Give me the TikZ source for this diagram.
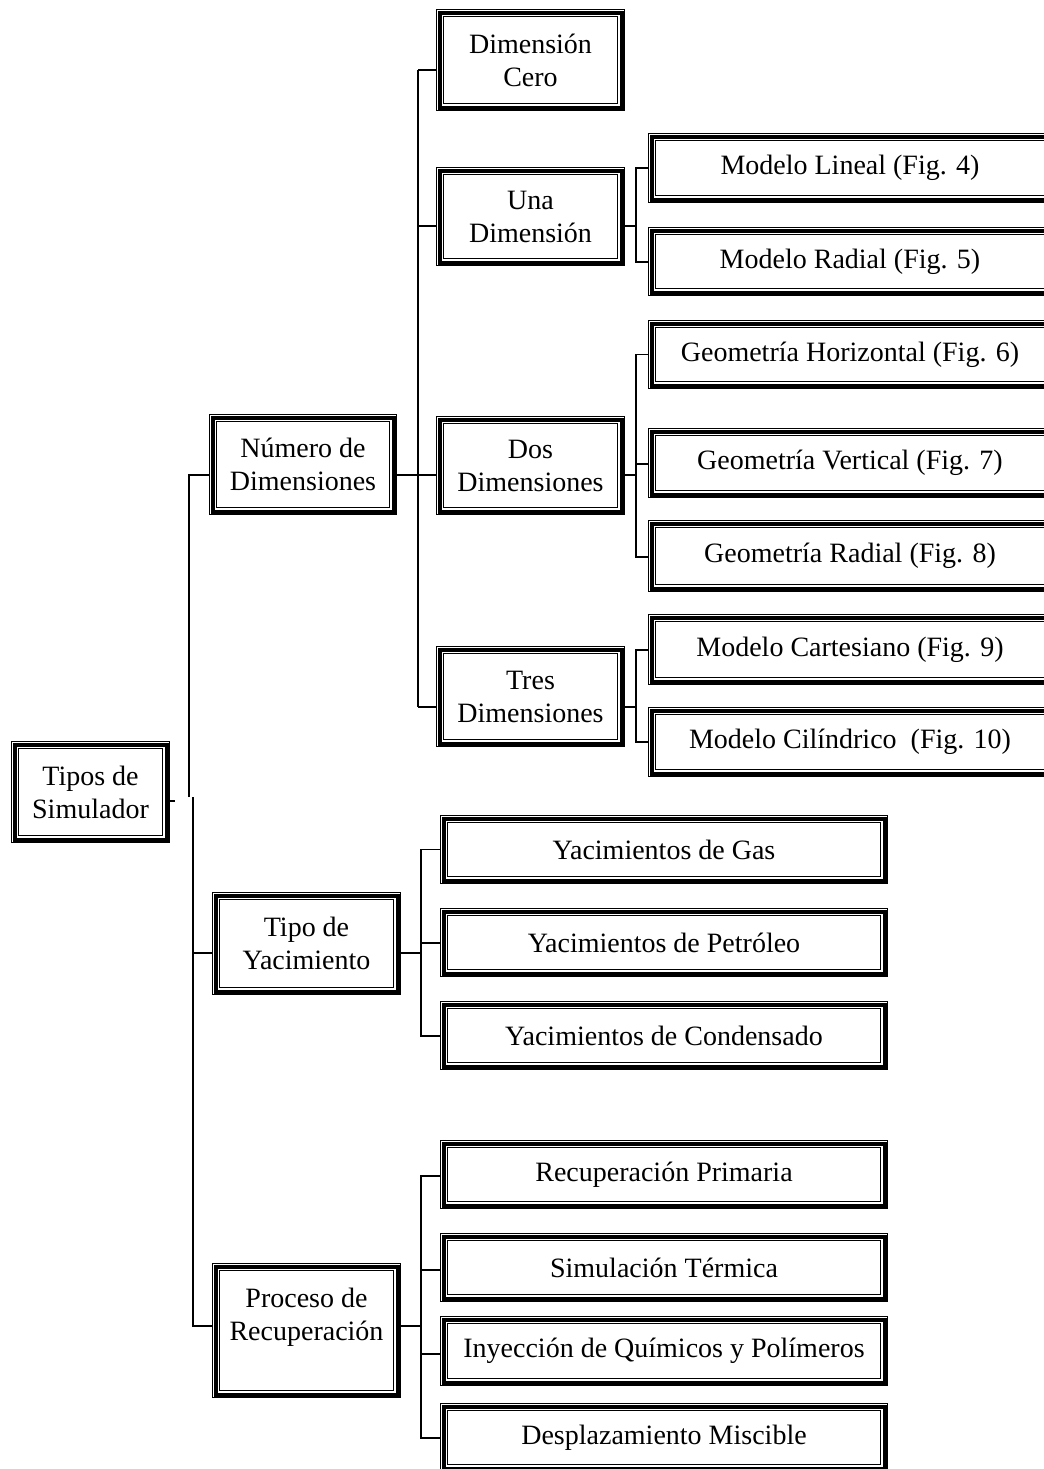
\documentclass[tikz,border=0pt]{standalone}
\usepackage{fontspec}
\setmainfont{Liberation Serif}
\begin{document}
\begin{tikzpicture}[x=0.5pt,y=-0.5pt,
  box/.style={draw=none, outer sep=0pt, inner sep=0pt, align=center,
    font=\fontsize{14pt}{16.5pt}\selectfont},
  sz/.style 2 args={minimum width=#1*0.5pt, minimum height=#2*0.5pt},
  conn/.style={line width=0.85pt, black}]
\fill[white] (0,0) rectangle (1044,1469);
\useasboundingbox (0,0) rectangle (1044,1469);

% root and first level
\node[box, sz={159}{102}] (tipos)   at (90.5,792)   {Tipos de\\Simulador};
\node[box, sz={188}{101}] (numero)  at (303,464.5)  {Número de\\Dimensiones};
\node[box, sz={189}{103}] (tipoyac) at (306.5,943.5) {Tipo de\\Yacimiento};
\node[box, sz={189}{135}] (proceso) at (306.5,1330.5) {Proceso de\\Recuperación\\\mbox{}};

% dimensions
\node[box, sz={189}{102}] (cero) at (530.5,60)    {Dimensión\\Cero};
\node[box, sz={189}{99}]  (una)  at (530.5,216.5) {Una\\Dimensión};
\node[box, sz={189}{99}]  (dos)  at (530.5,465.5) {Dos\\Dimensiones};
\node[box, sz={189}{101}] (tres) at (530.5,696.5) {Tres\\Dimensiones};

% geometric models
\node[box, sz={404}{70}] (lineal) at (850,168)   {Modelo Lineal (Fig. 4)};
\node[box, sz={404}{69}] (radial) at (850,261.5) {Modelo Radial (Fig. 5)};
\node[box, sz={404}{69}] (horiz)  at (850,354.5) {Geometría Horizontal (Fig. 6)};
\node[box, sz={404}{70}] (vert)   at (850,463)   {Geometría Vertical (Fig. 7)};
\node[box, sz={404}{72}] (georad) at (850,556)   {Geometría Radial (Fig. 8)};
\node[box, sz={404}{71}] (cart)   at (850,649.5) {Modelo Cartesiano (Fig. 9)};
\node[box, sz={404}{70}] (cil)    at (850,742)   {Modelo Cilíndrico\ \ (Fig. 10)};

% reservoir types
\node[box, sz={448}{69}] (gas)  at (664,849.5)  {Yacimientos de Gas};
\node[box, sz={448}{69}] (pet)  at (664,942.5)  {Yacimientos de Petróleo};
\node[box, sz={448}{69}] (cond) at (664,1035.5) {Yacimientos de Condensado};

% recovery processes
\node[box, sz={448}{69}] (prim) at (664,1174.5) {Recuperación Primaria};
\node[box, sz={448}{69}] (term) at (664,1267.5) {Simulación Térmica};
\node[box, sz={448}{70}] (iny)  at (664,1351)   {Inyección de Químicos y Polímeros};
\node[box, sz={448}{69}] (desp) at (664,1437.5) {Desplazamiento Miscible};

% thin-thick-thin frames
\foreach \n in {tipos,numero,tipoyac,proceso,cero,una,dos,tres,lineal,radial,horiz,vert,georad,cart,cil,gas,pet,cond,prim,term,iny,desp}{
  \draw[line width=0.5pt] ([shift={(0.25pt,-0.25pt)}]\n.north west) rectangle ([shift={(-0.25pt,0.25pt)}]\n.south east);
  \draw[line width=2pt] ([shift={(1.75pt,-1.75pt)}]\n.north west) rectangle ([shift={(-1.75pt,1.75pt)}]\n.south east);
  \draw[line width=0.5pt] ([shift={(3.75pt,-3.75pt)}]\n.north west) rectangle ([shift={(-3.75pt,3.75pt)}]\n.south east);
}

% root level connectors
\draw[conn] ([yshift=-4.5pt]tipos.east) -- ++(5,0);
\draw[conn] (189,797) |- (numero.west |- 0,475);
\draw[conn] (193,797) |- (proceso.west |- 0,1326);
\draw[conn] (193,953) -- (tipoyac.west |- 0,953);

% number of dimensions
\draw[conn] (numero.east |- 0,475) -- (dos.west |- 0,475);
\draw[conn] (418,70) -- (418,707);
\draw[conn] (418,70)  -- (cero.west |- 0,70);
\draw[conn] (418,226) -- (una.west |- 0,226);
\draw[conn] (418,707) -- (tres.west |- 0,707);

% one dimension
\draw[conn] (una.east |- 0,226) -- (636,226);
\draw[conn] (lineal.west) -| (636,262) -- (radial.west |- 0,262);

% two dimensions
\draw[conn] (dos.east |- 0,475) -- (636,475);
\draw[conn] (horiz.west) -| (636,557) -- (georad.west |- 0,557);
\draw[conn] (636,464) -- (vert.west |- 0,464);

% three dimensions
\draw[conn] (tres.east |- 0,707) -- (636,707);
\draw[conn] (cart.west |- 0,650) -| (636,742) -- (cil.west |- 0,742);

% reservoir type
\draw[conn] (tipoyac.east |- 0,953) -- (421,953);
\draw[conn] (gas.west) -| (421,1036) -- (cond.west |- 0,1036);
\draw[conn] (421,943) -- (pet.west |- 0,943);

% recovery process
\draw[conn] (proceso.east |- 0,1326) -- (421,1326);
\draw[conn] (prim.west |- 0,1176) -| (421,1438) -- (desp.west |- 0,1438);
\draw[conn] (421,1270) -- (term.west |- 0,1270);
\draw[conn] (421,1354) -- (iny.west |- 0,1354);
\end{tikzpicture}
\end{document}
